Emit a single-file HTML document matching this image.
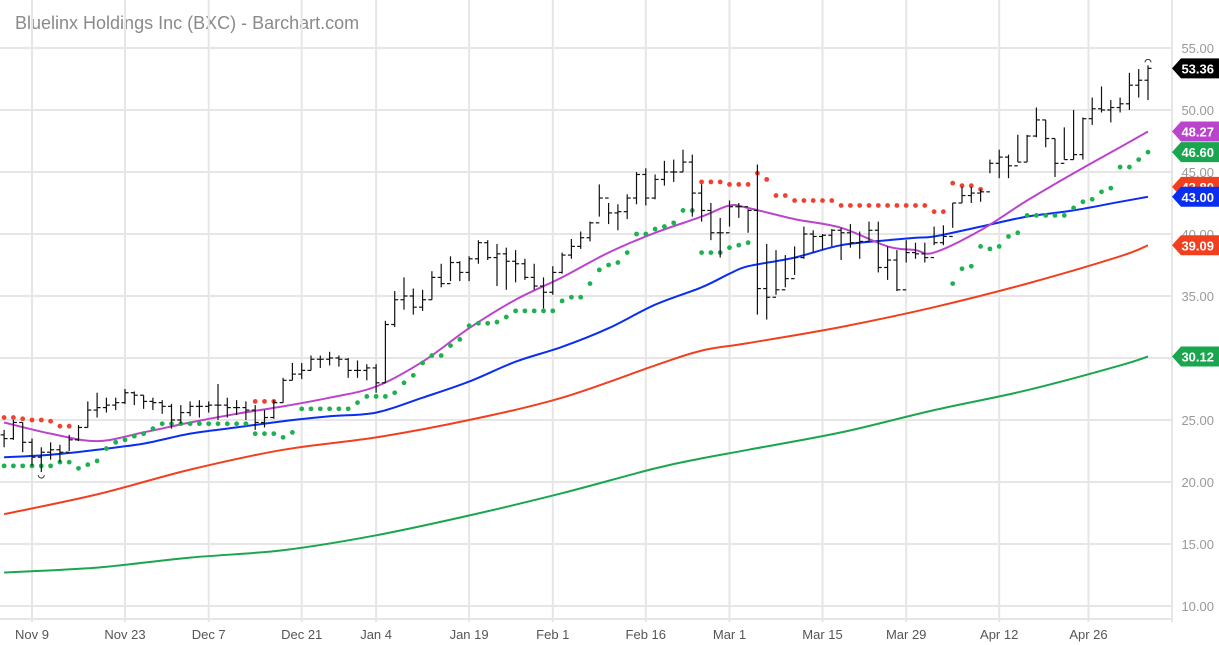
<!DOCTYPE html>
<html><head><meta charset="utf-8"><style>
html,body{margin:0;padding:0;background:#fff;width:1219px;height:645px;overflow:hidden}
svg{display:block;font-family:"Liberation Sans",sans-serif}
</style></head><body>
<svg id="chart" width="1219" height="645" xmlns="http://www.w3.org/2000/svg">
<text x="15" y="29" font-size="18" fill="#8a8a8a">Bluelinx Holdings Inc (BXC) - Barchart.com</text>
<g id="grid"></g>
<g id="mas"></g>
<g id="sar"></g>
<g id="bars"></g>
<g id="axis"></g>
<g id="tags"></g>
</svg>
<script>
const closes=[23.5,24.8,23.2,22,22.4,22.6,22.4,23.4,24.4,25.8,
26,26.2,26.4,27.2,27,26.5,26.4,26.1,25,25.6,
26.1,26.1,26.2,26.2,26,26,25.8,24.8,25.2,26.4,
28.2,28.7,29,29.9,29.9,30,29.9,29,29,29.2,
28,32.7,34.7,35,34.1,34.7,36.5,36,37.7,36.9,
38,39.3,38.1,38.4,37.8,37.6,36.5,35.8,35.3,36.9,
38.3,39,39.7,40.9,42.9,41.7,41.8,42.9,44.8,42.9,
44.4,45,45,
45.8,43.3,41.9,40.1,40.1,42.2,42.2,41.9,35.6,34.9,35.5,36.4,38.1,40,39.8,39.9,40.3,40.1,39.3,39.4,40.3,37.3,37.9,35.5,38.5,38.4,38.1,39.3,39.8,42.5,43.1,43.3,43.4,45.7,46.2,45.5,45.8,47.9,49.2,47.7,45.7,46,46.4,49.3,50.1,50,50.2,50.5,52,52.4,53.36];
const highs=[24.2,25,24.8,23.5,22.8,23.2,23,23.8,24.6,26.5,
27.2,26.8,26.8,27.5,27.3,27,26.8,26.6,26.3,26.2,
26.5,26.6,26.5,27.9,26.8,26.6,26.5,26.2,25.8,26.6,
28.4,29.6,29.6,30.2,30.2,30.5,30.2,30,29.8,29.5,
29.5,33,35.4,36.5,35.6,35.5,37,37.6,38.2,37.8,
38.2,39.5,39.5,39.2,38.9,38.7,38,37.6,36.5,37.4,
38.5,39.6,40.2,41,44,42.5,42.4,43.2,45,45.3,
44.8,45.9,46,
46.8,46.4,44,42.5,41.3,42.7,42.5,42,45.6,39.2,38.7,38.3,39,40.6,40.3,40,40.4,40.5,40.8,40.2,41,41,39,38.7,39.5,39.3,39.3,40.6,40.7,42.5,43.8,43.8,43.6,46,46.8,46.4,48,48,50.2,49.2,47.7,48.6,50,49.4,51,51.9,50.8,51,53,53.3,53.6];
const lows=[22.8,23.4,22.4,21.3,20.8,21.8,21.6,22.5,23.3,24.4,
25.2,25.6,25.8,26.3,26.2,25.9,25.8,25.5,24.3,24.7,
25.3,25.2,25.6,25,25.2,25.4,25,24.2,24.4,25.1,
26.4,28.2,28.3,29,29.2,29.4,29.3,28.4,28.4,28.2,
27.2,28,32.5,33.9,33.5,33.8,34.7,35.7,36.2,36.2,
36.2,37.6,37.9,35.8,35.5,36.1,36.3,35.5,34,35.1,
36.8,38,38.8,39.4,41.4,40.8,40.3,41.2,42.4,42.3,
42.8,43.9,44.2,
45,41.4,41,39.5,38.1,40.6,41.3,40.1,33.5,33.1,35.1,35.7,36.7,38,38.5,38.7,39,37.9,38.9,38,39.4,36.9,36.3,35.4,37.7,38,37.7,39.1,39.1,40.5,42.5,42.5,42.6,44.9,44.5,44.5,45.8,45.8,47.8,47,44.6,46,46,46,48.8,49.8,49,49.8,50,51,50.8];
const firstOpen=23.8;
const sarRed=[25.2,25.2,25.1,25,25,24.9,24.5,24.5,null,null,
null,null,null,null,null,null,null,null,null,null,
null,null,null,null,null,null,null,26.5,26.5,26.5,
null,null,null,null,null,null,null,null,null,null,
null,null,null,null,null,null,null,null,null,null,
null,null,null,null,null,null,null,null,null,null,
null,null,null,null,null,null,null,null,null,null,
null,null,null,null,null,44.2,44.2,44.2,44,44,44,44.9,44.4,43.1,43.1,42.7,42.7,42.7,42.7,42.7,
42.3,42.3,42.3,42.3,42.3,42.3,42.3,42.3,42.3,42.3,41.8,41.8,44.1,43.9,43.9,43.6,
null,null,null,null,null,null,null,null,null,null,null,null,null,null,null,null,null,null];
const sarGreen=[21.3,21.3,21.3,21.3,21.3,21.3,21.6,21.6,21.1,21.4,
21.7,22.7,23.2,23.4,23.7,23.9,24.3,24.7,24.7,24.7,
24.7,24.7,24.7,24.7,24.7,24.7,24.7,23.9,23.9,23.9,
23.6,24,25.9,25.9,25.9,25.9,25.9,25.9,26.4,26.9,
26.9,26.9,27.2,28,28.6,29.6,30.2,30.2,31,31.5,
32.6,32.8,32.8,32.9,33.3,33.8,33.8,33.8,33.8,33.8,
34.6,34.9,34.9,36,37.1,37.5,37.7,38.5,40,40,
40.4,40.6,40.9,41.9,41.9,38.5,38.5,38.5,38.9,39.1,39.3,
null,null,null,null,null,null,null,null,null,null,null,null,null,null,null,null,null,null,null,null,null,
36,37.2,37.4,39,38.8,39,39.8,40.1,41.5,41.5,41.5,41.5,41.5,42.1,42.6,42.8,43.4,43.7,45.4,45.4,46,46.6];
const maIdx=[0,5,10,15,20,25,30,35,40,45,50,55,60,65,70,75,78,80,85,90,95,98,100,105,110,115,120,123];
const maFast=[24.8,23.9,23.3,24,24.8,25.5,26.1,26.8,27.7,29.7,32.4,34.7,36.5,38.5,40.1,41.4,42.3,42.1,41.2,40.5,39,38.7,38.5,40.3,42.7,44.9,47,48.27];
const maMid=[22,22.2,22.6,23.1,23.9,24.4,24.9,25.3,25.6,26.8,28.1,29.7,30.9,32.4,34.3,35.7,36.8,37.4,38.1,39.1,39.5,39.7,39.8,40.6,41.4,41.9,42.6,43];
const ma50Idx=[0,10,20,30,40,50,60,70,75,80,90,100,110,120,123];
const ma50=[17.4,19,21,22.6,23.6,25,26.8,29.4,30.6,31.2,32.5,34.1,36,38.2,39.09];
const ma100=[12.7,13.1,13.9,14.5,15.7,17.3,19.1,21.1,21.9,22.6,24,25.8,27.4,29.4,30.12];
const yTicks=[55,50,45,40,35,30,25,20,15,10];
const xTickIdx=[3,13,22,32,40,50,59,69,78,88,97,107,116.6];
const xTickLabels=["Nov 9","Nov 23","Dec 7","Dec 21","Jan 4","Jan 19","Feb 1","Feb 16","Mar 1","Mar 15","Mar 29","Apr 12","Apr 26"];
const tagVals=[53.36,48.27,46.60,43.80,43.00,39.09,30.12];
const tagColors=["#000","#bb44cc","#1aa64f","#f0401f","#0a2ef0","#f0401f","#1aa64f"];

const NS="http://www.w3.org/2000/svg";
const X=i=>4.1+i*9.3;
const Y=v=>48+(55-v)*12.4;
const PLOT_R=1172;
function mk(tag,attrs,parent){const e=document.createElementNS(NS,tag);for(const k in attrs)e.setAttribute(k,attrs[k]);parent.appendChild(e);return e;}
const grid=document.getElementById('grid'),axis=document.getElementById('axis');
yTicks.forEach(v=>{
  const l=mk('line',{x1:0,x2:PLOT_R,y1:Y(v),y2:Y(v),stroke:'#e6e6e6','stroke-width':2},grid);
  
  
  const t=mk('text',{x:1214,y:Y(v)+5,'text-anchor':'end','font-size':13,fill:'#999'},axis);
  t.textContent=v.toFixed(2);
  
  
});
xTickIdx.forEach((ix,k)=>{
  const l=mk('line',{x1:X(ix),x2:X(ix),y1:0,y2:622,stroke:'#e6e6e6','stroke-width':2},grid);
  
  
  const t=mk('text',{x:X(ix),y:639,'text-anchor':'middle','font-size':13,fill:'#555'},axis);
  t.textContent=xTickLabels[k];
  
  
});
const bl=mk('line',{x1:0,x2:PLOT_R,y1:619,y2:619,stroke:'#e6e6e6','stroke-width':2},grid);


const vl=mk('line',{x1:PLOT_R,x2:PLOT_R,y1:0,y2:622,stroke:'#e6e6e6','stroke-width':2},grid);



const mas=document.getElementById('mas');
function line(idx,vals,color,name){
  const pts=idx.map((ix,k)=>[X(ix),Y(vals[k])]);
  let d='M'+pts[0][0].toFixed(1)+' '+pts[0][1].toFixed(1);
  for(let k=0;k<pts.length-1;k++){
    const p0=pts[k-1]||pts[k],p1=pts[k],p2=pts[k+1],p3=pts[k+2]||p2;
    const c1=[p1[0]+(p2[0]-p0[0])/6,p1[1]+(p2[1]-p0[1])/6];
    const c2=[p2[0]-(p3[0]-p1[0])/6,p2[1]-(p3[1]-p1[1])/6];
    d+=` C${c1[0].toFixed(1)} ${c1[1].toFixed(1)} ${c2[0].toFixed(1)} ${c2[1].toFixed(1)} ${p2[0].toFixed(1)} ${p2[1].toFixed(1)}`;
  }
  const p=mk('path',{d:d,fill:'none',stroke:color,'stroke-width':2,'stroke-linejoin':'round'},mas);
  
  
}
line(ma50Idx,ma100,'#1aa64f','ma-100-line');
line(ma50Idx,ma50,'#f0401f','ma-50-line');
line(maIdx,maMid,'#0a2ef0','ma-20-line');
line(maIdx,maFast,'#bb44cc','ma-9-line');

const sar=document.getElementById('sar');
sarRed.forEach((v,i)=>{if(v==null)return;
  const c=mk('circle',{cx:X(i),cy:Y(v),r:2.4,fill:'#f04030'},sar);
  
  });
sarGreen.forEach((v,i)=>{if(v==null)return;
  const c=mk('circle',{cx:X(i),cy:Y(v),r:2.4,fill:'#1fb050'},sar);
  
  });

const bars=document.getElementById('bars');
closes.forEach((c,i)=>{
  const o=i?closes[i-1]:firstOpen;const x=X(i);
  const g=mk('g',{stroke:'#111','stroke-width':1.2},bars);
  
  
  mk('line',{x1:x,x2:x,y1:Y(highs[i]),y2:Y(lows[i])},g);
  mk('line',{x1:x-3.5,x2:x,y1:Y(o),y2:Y(o)},g);
  mk('line',{x1:x,x2:x+3.5,y1:Y(c),y2:Y(c)},g);
});
const hiI=closes.length-1;
const hm=mk('path',{d:`M${X(hiI)-3} ${Y(highs[hiI])-3} a3 3 0 0 1 6 0`,fill:'none',stroke:'#333','stroke-width':1},bars);


const lm=mk('path',{d:`M${X(4)-3} ${Y(lows[4])+3} a3 3 0 0 0 6 0`,fill:'none',stroke:'#333','stroke-width':1},bars);



const tags=document.getElementById('tags');
tagVals.forEach((v,k)=>{
  const y=Y(v);
  const g=mk('g',{},tags);
  
  
  mk('path',{d:`M1172 ${y} L1181 ${y-10} L1219 ${y-10} L1219 ${y+10} L1181 ${y+10} Z`,fill:tagColors[k]},g);
  const t=mk('text',{x:1214,y:y+5,'text-anchor':'end','font-size':13,'font-weight':'bold',fill:'#fff'},g);
  t.textContent=v.toFixed(2);
});
</script>
</body></html>
